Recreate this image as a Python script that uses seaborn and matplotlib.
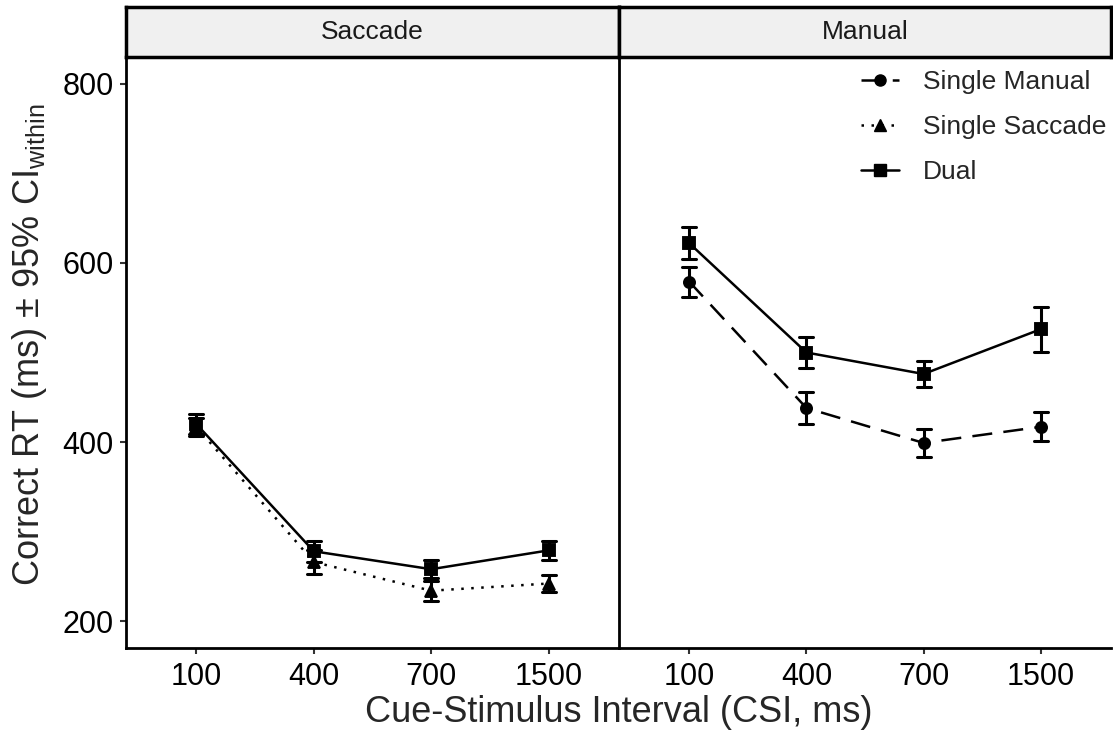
import numpy as np
import pandas as pd
import matplotlib
matplotlib.use("Agg")
import matplotlib.pyplot as plt
from matplotlib.lines import Line2D
import seaborn as sns

# -----------------------------
# Data
# -----------------------------
csi = ["100", "400", "700", "1500"]

sacc_dual = [420, 278, 258, 279]
sacc_dual_ci = [11, 12, 10, 11]
sacc_single = [417, 266, 234, 242]
sacc_single_ci = [10, 13, 11, 9]

man_dual = [622, 500, 476, 526]
man_dual_ci = [18, 17, 15, 25]
man_single = [579, 438, 399, 417]
man_single_ci = [17, 18, 16, 16]


def make_rows(panel, cond, means, cis):
    # three rows per point: lower, mean, upper -> min/max gives the CI
    rows = []
    for x, m, c in zip(csi, means, cis):
        for v in (m - c, m, m + c):
            rows.append({"Panel": panel, "Condition": cond, "CSI": x, "RT": v})
    return rows


rows = []
rows += make_rows("Saccade", "Single Saccade", sacc_single, sacc_single_ci)
rows += make_rows("Saccade", "Dual", sacc_dual, sacc_dual_ci)
rows += make_rows("Manual", "Single Manual", man_single, man_single_ci)
rows += make_rows("Manual", "Dual", man_dual, man_dual_ci)
df = pd.DataFrame(rows)

sns.set_theme(style="white")
plt.rcParams["font.family"] = ["Liberation Sans", "DejaVu Sans"]
plt.rcParams["mathtext.fontset"] = "custom"
plt.rcParams["mathtext.rm"] = "Liberation Sans"
plt.rcParams["mathtext.it"] = "Liberation Sans"

LW = 1.8
MS = 8
styles = {
    "Single Manual": dict(marker="o", ls=(0, (8, 4.5))),
    "Single Saccade": dict(marker="^", ls=(0, (1, 3))),
    "Dual": dict(marker="s", ls="-"),
}

W, H = 1113, 732
fig = plt.figure(figsize=(W / 100, H / 100), dpi=100)

panels = [("Saccade", 126, 493, ["Single Saccade", "Dual"]),
          ("Manual", 619, 492, ["Single Manual", "Dual"])]
top, bottom = 57, 648

for i, (name, x0, w, order) in enumerate(panels):
    ax = fig.add_axes([x0 / W, (H - bottom) / H, w / W, (bottom - top) / H])
    sub = df[df["Panel"] == name]
    sns.pointplot(
        data=sub, x="CSI", y="RT", hue="Condition", hue_order=order,
        order=csi, palette=["black"] * len(order),
        markers=[styles[c]["marker"] for c in order],
        linestyles=[styles[c]["ls"] for c in order],
        estimator="mean", errorbar=lambda v: (v.min(), v.max()),
        capsize=0.12, err_kws={"linewidth": 2.2},
        linewidth=LW, markersize=MS, dodge=False, ax=ax,
    )
    if ax.get_legend() is not None:
        ax.get_legend().remove()
    ax.set_xlim(-0.6, 3.6)
    ax.set_ylim(170, 830)
    ax.set_yticks([200, 400, 600, 800])
    ax.set_xlabel("")
    ax.set_ylabel("")
    for s in ["top", "right"]:
        ax.spines[s].set_visible(False)
    for s in ["left", "bottom"]:
        ax.spines[s].set_linewidth(2)
        ax.spines[s].set_color("black")
    ax.tick_params(axis="both", length=4, width=1.5, color="#333333",
                   labelsize=22, labelcolor="black", pad=5)
    ax.tick_params(axis="x", bottom=True, pad=6)
    ax.tick_params(axis="y", left=True)
    if i == 1:
        ax.tick_params(axis="y", left=False, labelleft=False)

    # strip on top of the panel
    sax = fig.add_axes([x0 / W, (H - top) / H, w / W, 50 / H])
    sax.set_facecolor("#f0f0f0")
    sax.set_xticks([])
    sax.set_yticks([])
    for s in sax.spines.values():
        s.set_visible(True)
        s.set_linewidth(2.5)
        s.set_color("black")
    sax.text(0.5, 0.5, name, ha="center", va="center", fontsize=19,
             color="#1a1a1a", transform=sax.transAxes)

    if i == 1:
        labels = ["Single Manual", "Single Saccade", "Dual"]
        handles = [Line2D([], [], color="black", marker=styles[c]["marker"],
                          linestyle=styles[c]["ls"], linewidth=LW,
                          markersize=MS)
                   for c in labels]
        ax.legend(handles, labels, loc="upper right",
                  bbox_to_anchor=(0.99, 0.978), borderaxespad=0, borderpad=0,
                  frameon=False, fontsize=19, handlelength=1.45,
                  labelspacing=0.8, handletextpad=0.9)

fig.text(0.5 * (126 + 1111) / W, (H - 713) / H,
         "Cue-Stimulus Interval (CSI, ms)", ha="center", va="center",
         fontsize=26)
fig.text(30 / W, (H - 345) / H,
         r"Correct RT (ms) $\pm$ 95% CI$_{\mathrm{within}}$",
         rotation=90, ha="center", va="center", fontsize=26)

fig.savefig("out.png", dpi=100)
